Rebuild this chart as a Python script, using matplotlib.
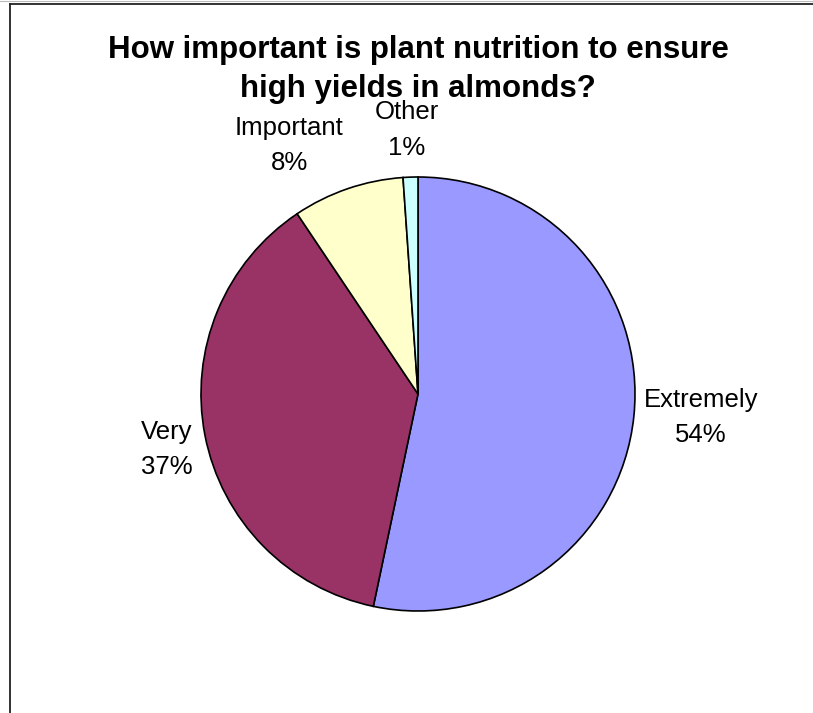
import numpy as np
import matplotlib
matplotlib.use("Agg")
import matplotlib.pyplot as plt
from matplotlib.lines import Line2D

categories = ["Extremely", "Very", "Important", "Other"]
shares = [53.3, 37.3, 8.3, 1.1]          # slice sizes
pct_labels = ["54%", "37%", "8%", "1%"]  # percentages as printed on the chart
colors = ["#9999FF", "#993366", "#FFFFCC", "#CCFFFF"]
title_lines = ["How important is plant nutrition to ensure", "high yields in almonds?"]

W, H = 813, 713
fig = plt.figure(figsize=(W / 100, H / 100), dpi=100)
fig.patch.set_facecolor("white")

cx, cy, R = 418, 394, 217  # pixel centre and radius of the pie
ax = fig.add_axes([0, 0, 1, 1])
ax.axis("off")

wedges, _ = ax.pie(shares, colors=colors, startangle=90, counterclock=False,
                   radius=1.0, center=(0, 0), normalize=True,
                   wedgeprops=dict(edgecolor="black", linewidth=1.2))
ax.set_xlim(-cx / R, (W - cx) / R)
ax.set_ylim(-(H - cy) / R, cy / R)
ax.set_aspect("auto")

font = "Liberation Sans"
# label placement (distance from centre, angular nudge in degrees, vertical shift in px)
label_dist = [1.31, 1.18, 1.31, 1.236]
label_nudge = [0.0, 0.0, 8.0, 0.5]
label_shift = [6, -7, -5, -4]
for w, name, pct, d, nud, sh in zip(wedges, categories, pct_labels, label_dist,
                                    label_nudge, label_shift):
    mid = np.deg2rad((w.theta1 + w.theta2) / 2 + nud)
    x, y = d * np.cos(mid), d * np.sin(mid)
    s = sh * 0.72
    ax.annotate(name, (x, y), xytext=(0, 4 + s), textcoords="offset points",
                ha="center", va="bottom", fontsize=18.5, family=font)
    ax.annotate(pct, (x, y), xytext=(0, -4 + s), textcoords="offset points",
                ha="center", va="top", fontsize=18.5, family=font)

fig.text(cx / W, 1 - 58 / H, title_lines[0], ha="center", va="baseline",
         fontsize=22.5, fontweight="bold", family=font)
fig.text(cx / W, 1 - 97 / H, title_lines[1], ha="center", va="baseline",
         fontsize=22.5, fontweight="bold", family=font)

# chart-area border (top and left edges visible)
fig.add_artist(Line2D([9.5 / W, 1], [1 - 4 / H, 1 - 4 / H], transform=fig.transFigure,
                      color="#222222", linewidth=1.3))
fig.add_artist(Line2D([9.5 / W, 9.5 / W], [0, 1 - 4 / H], transform=fig.transFigure,
                      color="#222222", linewidth=1.3))
fig.add_artist(Line2D([0, 1], [1 - 0.5 / H, 1 - 0.5 / H], transform=fig.transFigure,
                      color="#BBBBBB", linewidth=0.8))

fig.savefig("out.png", dpi=100, facecolor="white")
